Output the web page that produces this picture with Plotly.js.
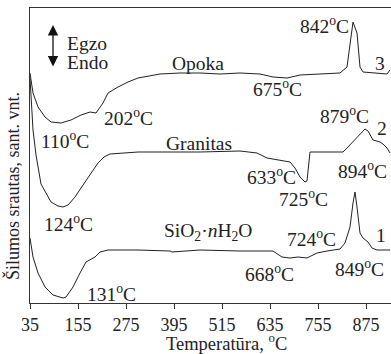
<!DOCTYPE html>
<html>
<head>
<meta charset="utf-8">
<script src="https://cdn.plot.ly/plotly-3.0.1.min.js"></script>
<style>
html,body{margin:0;padding:0;background:#fff;overflow:hidden;}
#chart{width:391px;height:354px;}
</style>
</head>
<body>
<div id="chart"></div>
<script>
// Curve 3: Opoka
const tempOpoka = [35,42.5,55,72.5,87.5,112.5,137.5,162.5,185,200,217.5,230,255,280,305,360,410,460,510,560,610,642.5,677.5,710,760,810,827.5,835,842.5,852.5,860,867.5,892.5,927.5,935];
const valOpoka  = [230,210,196,186,181,180,183,188,191,190,200,210,216,221,225,229,230,230,229,230,229,226,225,228,229,230,236,260,281,270,236,231,230,229,233];
// Curve 2: Granitas
const tempGranitas = [35,37.5,42.5,50,62.5,75,87.5,105,117.5,130,147.5,162.5,175,190,205,220,235,305,385,460,560,602.5,627.5,652.5,685,697.5,710,722.5,727.5,735,752.5,817.5,827.5,852.5,872.5,880,892.5,910,917.5,927.5,935];
const valGranitas  = [225,203,173,148,119,110,101,97,96,98,106,115,122,131,140,146,149,151,151,151,152,150,145,143,141,135,126,121,122,151,151,151,155,166,174,172,163,161,159,155,150];
// Curve 1: SiO2·nH2O
const tempSilica = [35,42.5,55,72.5,92.5,117.5,125,142.5,160,175,197.5,210,230,305,385,390,460,560,642.5,665,685,705,727.5,752.5,777.5,810,822.5,835,842.5,847.5,852.5,860,867.5,880,890,902.5,935];
const valSilica  = [65,46,30,16,8,5,6,16,30,41,46,51,53,53,52,51,53,52,52,46,45,46,45,50,52,54,60,76,100,111,96,70,65,61,55,53,53];

const tickVals = [35,155,275,395,515,635,755,875];
const tickText = ['35','155','275','395','515','635','755','875'];

// Peak and curve labels
const labelText = ['842<sup>o</sup>C','675<sup>o</sup>C','202<sup>o</sup>C','110<sup>o</sup>C','879<sup>o</sup>C','894<sup>o</sup>C','633<sup>o</sup>C','725<sup>o</sup>C','124<sup>o</sup>C','724<sup>o</sup>C','668<sup>o</sup>C','849<sup>o</sup>C','131<sup>o</sup>C','Opoka','Granitas','SiO<sub>2</sub>·<i>n</i>H<sub>2</sub>O','3','2','1'];
const labelT    = [770,652.5,280,122.5,820,865,637.5,717.5,130,737.5,632.5,857.5,237.5,455,457.5,480,910,915,912.5];
const labelV    = [278,215,186,163,188,133,127,105,80,65,30,35,10,240,160,71,240,175,68];

const lineColor = '#222';
const font = {family:'"Liberation Serif", "Times New Roman", serif', color:'#222'};

const traces = [
  {x:tempOpoka, y:valOpoka, name:'Opoka'},
  {x:tempGranitas, y:valGranitas, name:'Granitas'},
  {x:tempSilica, y:valSilica, name:'SiO2·nH2O'}
].map(t => Object.assign(t, {type:'scatter', mode:'lines', line:{color:lineColor, width:1}, hoverinfo:'skip'}));

const annotations = labelText.map((t,i) => ({
  x: labelT[i], y: labelV[i], xref:'x', yref:'y', text:t, showarrow:false,
  xanchor:'center', yanchor:'middle', font:Object.assign({size:19.5}, font)
}));

// Egzo / Endo legend
annotations.push({x:122.5, y:260, xref:'x', yref:'y', text:'Egzo', showarrow:false, xanchor:'left', yanchor:'middle', font:Object.assign({size:19.5}, font)});
annotations.push({x:122.5, y:241, xref:'x', yref:'y', text:'Endo', showarrow:false, xanchor:'left', yanchor:'middle', font:Object.assign({size:19.5}, font)});
annotations.push({x:92.5, y:278, ax:92.5, ay:235, xref:'x', yref:'y', axref:'x', ayref:'y', text:'', showarrow:true,
  arrowhead:2, arrowside:'end+start', arrowsize:1.6, arrowwidth:1.3, arrowcolor:'#111'});

// Axis titles
annotations.push({x:525, y:-0.133, xref:'x', yref:'paper', text:'Temperatūra, <sup>o</sup>C', showarrow:false,
  xanchor:'center', yanchor:'middle', font:Object.assign({size:18.5}, font)});
annotations.push({x:-0.047, y:0.397, xref:'paper', yref:'paper', text:'Šilumos srautas, sant. vnt.', showarrow:false,
  textangle:-90, xanchor:'center', yanchor:'middle', font:Object.assign({size:18}, font)});

const layout = {
  width:391, height:354,
  margin:{l:30, r:0, t:8, b:51},
  paper_bgcolor:'#fff', plot_bgcolor:'#fff',
  showlegend:false,
  font:Object.assign({size:18}, font),
  xaxis:{range:[35,937.5], tickvals:tickVals, ticktext:tickText, ticks:'outside', ticklen:5, tickwidth:1.2, tickcolor:'#333',
    showline:true, linecolor:'#333', linewidth:1.2, mirror:true, showgrid:false, zeroline:false,
    tickfont:Object.assign({size:18}, font)},
  yaxis:{range:[0,295], showticklabels:false, ticks:'', showline:true, linecolor:'#333', linewidth:1.2, mirror:false,
    showgrid:false, zeroline:false},
  annotations:annotations
};

Plotly.newPlot('chart', traces, layout, {displayModeBar:false});
</script>
</body>
</html>
